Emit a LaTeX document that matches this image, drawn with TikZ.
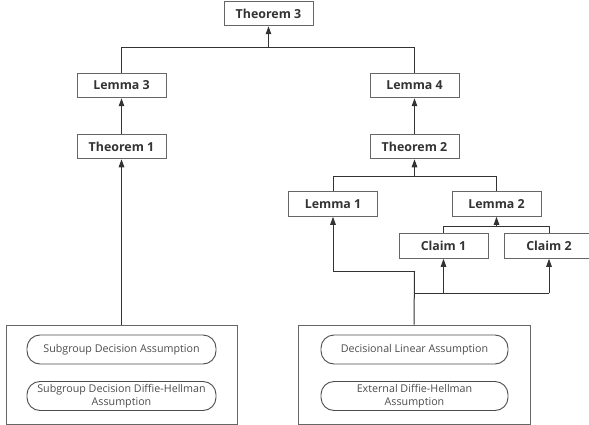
\documentclass[tikz,border=0pt]{standalone}
\usepackage{fontspec}
\setmainfont{Open Sans}
\usetikzlibrary{arrows.meta}

\tikzset{
  result/.style={draw=black!60,line width=1pt,fill=white,minimum width=89pt,minimum height=24.5pt,inner sep=0pt,font=\fontsize{12.4}{14}\selectfont\bfseries,text=black!80},
  assume/.style={draw=black!70,line width=0.9pt,rounded corners=13pt,minimum width=189pt,minimum height=29pt,inner sep=0pt,align=center,font=\fontsize{10.7}{12.5}\selectfont,text=black!70},
  group/.style={draw=black!60,line width=0.9pt,minimum width=231pt,minimum height=99pt,inner sep=0pt},
  link/.style={draw=black!80,line width=1pt},
  tip/.style={link,-{Triangle[length=8pt,width=5.5pt]}}
}

\begin{document}
\begin{tikzpicture}[x=1pt,y=-1pt]
  \useasboundingbox (0,0) rectangle (589,425);
  % results
  \node[result] (thm3) at (268.5,13.5) {Theorem 3};
  \node[result] (lem3) at (121.5,85.5) {Lemma 3};
  \node[result] (lem4) at (414.5,85.5) {Lemma 4};
  \node[result] (thm1) at (121.5,146.5) {Theorem 1};
  \node[result] (thm2) at (414.5,146.5) {Theorem 2};
  \node[result] (lem1) at (333,204) {Lemma 1};
  \node[result] (lem2) at (496.5,204) {Lemma 2};
  \node[result] (clm1) at (443.5,246) {Claim 1};
  \node[result] (clm2) at (549,246) {Claim 2};
  % assumptions
  \node[group] (sdgrp) at (121.5,374.5) {};
  \node[group,minimum width=232pt] (dlgrp) at (414,374.5) {};
  \node[assume] (sda) at (121.5,349.5) {Subgroup Decision Assumption};
  \node[assume] (sdh) at (121.5,396) {Subgroup Decision Diffie-Hellman\\Assumption};
  \node[assume,minimum width=187pt] (dla) at (414.5,349.5) {Decisional Linear Assumption};
  \node[assume,minimum width=187pt] (xdh) at (414.5,396) {External Diffie-Hellman\\Assumption};
  % junctions
  \coordinate (j3) at (268.5,48);
  \coordinate (j2) at (414.5,176);
  \coordinate (jl2) at (496.5,226);
  \coordinate (jl1) at (414.5,271);
  \coordinate (jc) at (414.5,293);
  % connectors
  \draw[link] (lem3.north) -- (lem3.north |- j3) -- (lem4.north |- j3) -- (lem4.north);
  \draw[tip] (j3) -- (thm3.south);
  \draw[tip] (thm1.north) -- (lem3.south);
  \draw[tip] (thm2.north) -- (lem4.south);
  \draw[tip] (sdgrp.north) -- (thm1.south);
  \draw[link] (lem1.north) -- (lem1.north |- j2) -- (lem2.north |- j2) -- (lem2.north);
  \draw[tip] (j2) -- (thm2.south);
  \draw[link] (clm1.north) -- (clm1.north |- jl2) -- (clm2.north |- jl2) -- (clm2.north);
  \draw[tip] (jl2) -- (lem2.south);
  \draw[link] (dlgrp.north) -- (jl1);
  \draw[tip] (jl1) -- (lem1.south |- jl1) -- (lem1.south);
  \draw[link] (jc) -- (clm2.south |- jc);
  \draw[tip] (clm1.south |- jc) -- (clm1.south);
  \draw[tip] (clm2.south |- jc) -- (clm2.south);
\end{tikzpicture}
\end{document}
